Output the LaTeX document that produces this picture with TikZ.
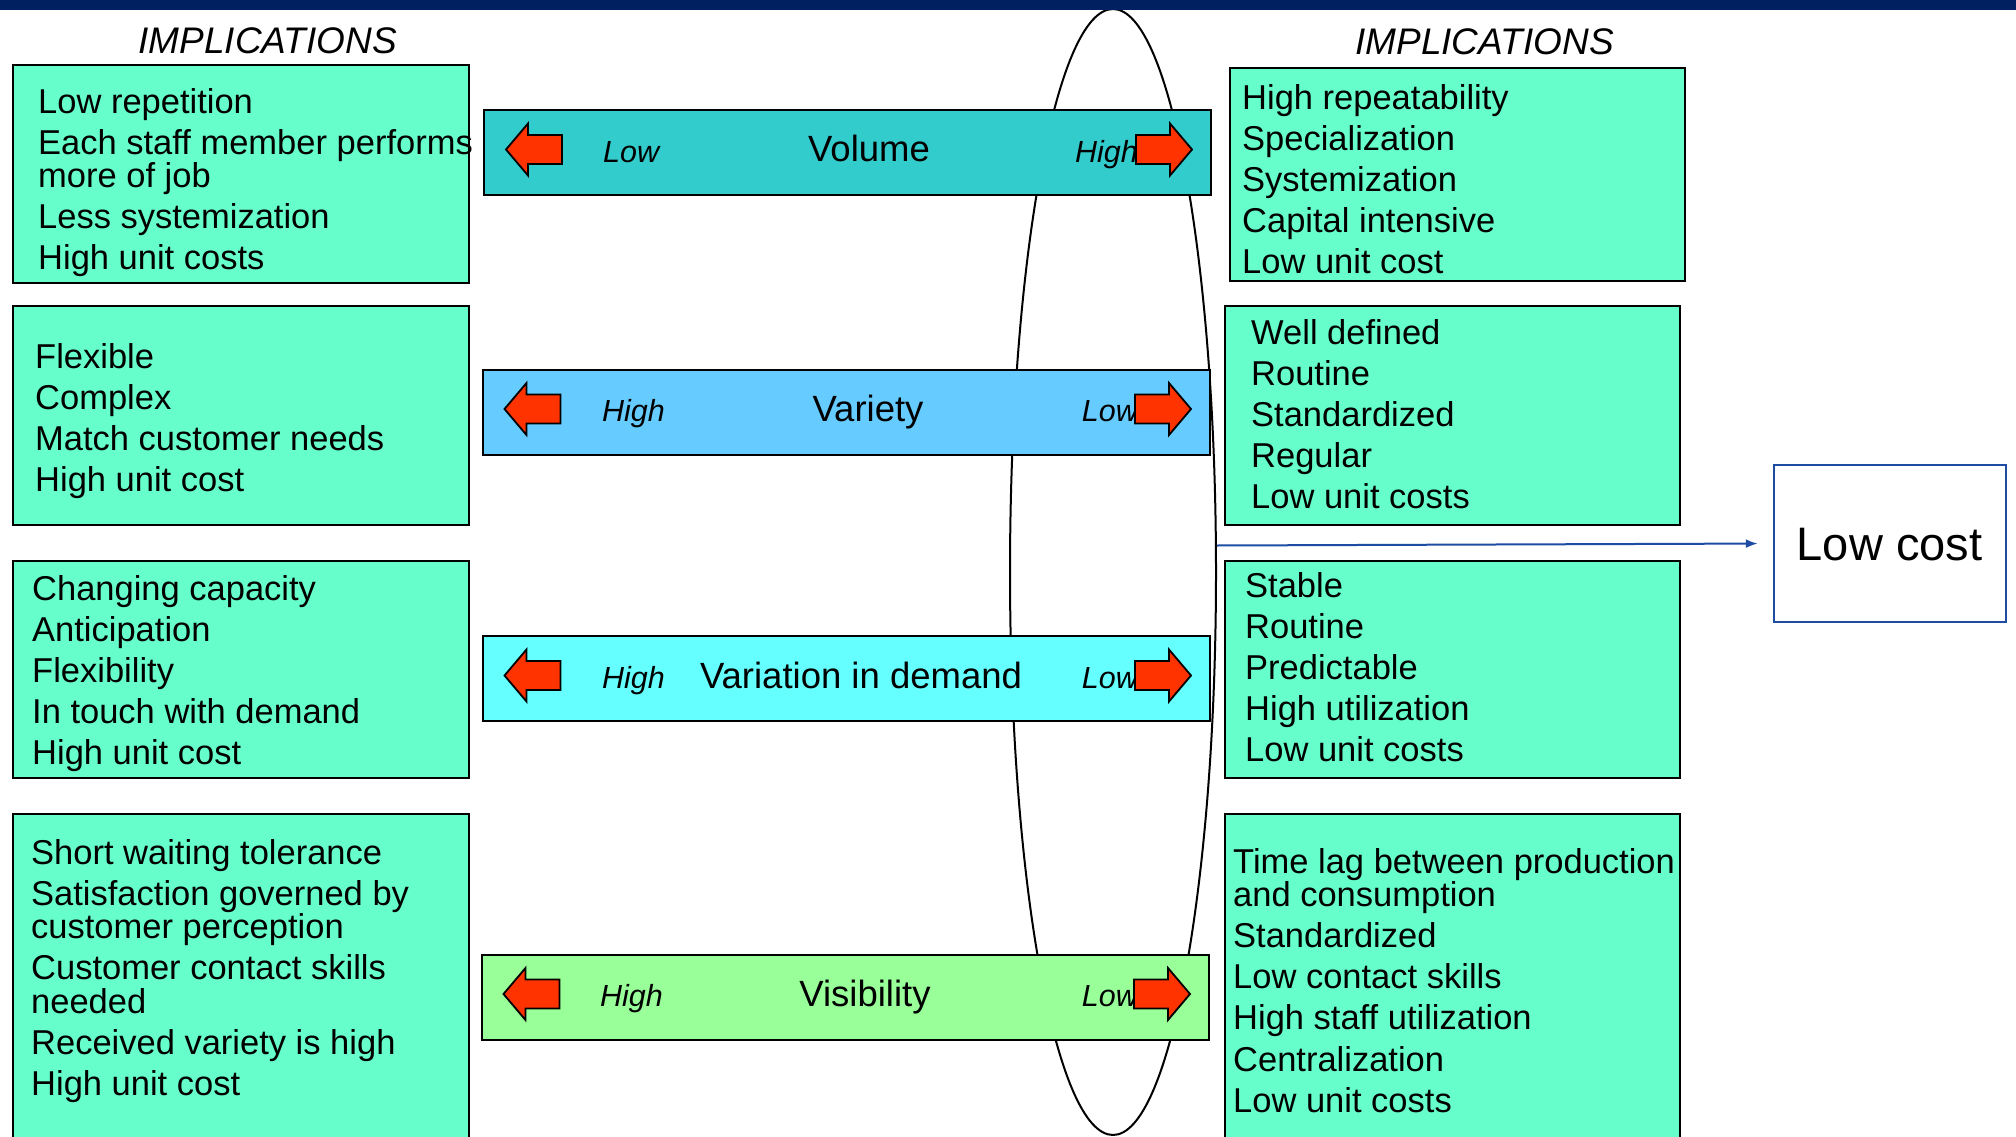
\documentclass[tikz,border=0pt]{standalone}
\usepackage{fontspec}
\setmainfont{Liberation Sans}
\usetikzlibrary{shapes.geometric,arrows.meta}

\definecolor{navy}{HTML}{002060}
\definecolor{mint}{HTML}{66FFCC}
\definecolor{volfill}{HTML}{33CCCC}
\definecolor{varfill}{HTML}{66CCFF}
\definecolor{demfill}{HTML}{66FFFF}
\definecolor{visfill}{HTML}{99FF99}
\definecolor{arrowred}{HTML}{FF3300}
\definecolor{linkblue}{HTML}{1F4CA3}

\newcommand\pbreak{\\[7.7pt]}

\tikzset{
  box/.style={draw=black, line width=2pt, fill=mint, rectangle, inner sep=0pt},
  bar/.style={draw=black, line width=2pt, rectangle, inner sep=0pt,
              minimum width=727pt, minimum height=85pt},
  txt/.style={anchor=north west, inner sep=0pt, align=left,
              font=\fontsize{34.5}{33.4}\selectfont},
  barname/.style={anchor=base, inner sep=0pt, font=\fontsize{36.5}{40}\selectfont},
  level/.style={inner sep=0pt, font=\fontsize{30.5}{34}\selectfont\itshape},
  heading/.style={anchor=base, inner sep=0pt, font=\fontsize{37}{40}\selectfont\itshape},
  oval/.style={draw=black, line width=2pt, ellipse, inner sep=0pt,
               minimum width=206pt, minimum height=1126pt},
  link/.style={draw=linkblue, line width=2pt, -{Latex[length=12pt,width=9pt]}},
  pointer/.pic={
    \draw[fill=arrowred, line width=1.8pt, line join=miter]
      (0,0) -- (22,-26) -- (22,-14.5) -- (56,-14.5) -- (56,14.5)
      -- (22,14.5) -- (22,26) -- cycle;
  },
}

\begin{document}
\begin{tikzpicture}[x=1pt, y=-1pt]
\useasboundingbox (0,0) rectangle (2016,1137);
\clip (0,0) rectangle (2016,1137);
\fill[white] (0,0) rectangle (2016,1137);

% central oval
\node[oval] (ring) at (1113,572) {};

% left implication boxes
\node[box, minimum width=456pt, minimum height=218pt] (l1) at (241,174) {};
\node[box, minimum width=456pt, minimum height=219pt] (l2) at (241,415.5) {};
\node[box, minimum width=456pt, minimum height=217pt] (l3) at (241,669) {};
\node[box, minimum width=456pt, minimum height=346pt] (l4) at (241,987) {};

% right implication boxes
\node[box, minimum width=455pt, minimum height=213pt] (r1) at (1457.5,174.5) {};
\node[box, minimum width=455pt, minimum height=219pt] (r2) at (1452.5,415.5) {};
\node[box, minimum width=455pt, minimum height=217pt] (r3) at (1452.5,669) {};
\node[box, minimum width=455pt, minimum height=346pt] (r4) at (1452.5,987) {};

% box texts
\node[txt] (l1t) at (38,88) {Low repetition\pbreak Each staff member performs\\ more of job\pbreak Less systemization\pbreak High unit costs};
\node[txt] (l2t) at (35,343) {Flexible\pbreak Complex\pbreak Match customer needs\pbreak High unit cost};
\node[txt] (l3t) at (32,575) {Changing capacity\pbreak Anticipation\pbreak Flexibility\pbreak In touch with demand\pbreak High unit cost};
\node[txt] (l4t) at (31,839) {Short waiting tolerance\pbreak Satisfaction governed by\\ customer perception\pbreak Customer contact skills\\ needed\pbreak Received variety is high\pbreak High unit cost};

\node[txt] (r1t) at (1242,84) {High repeatability\pbreak Specialization\pbreak Systemization\pbreak Capital intensive\pbreak Low unit cost};
\node[txt] (r2t) at (1251,319) {Well defined\pbreak Routine\pbreak Standardized\pbreak Regular\pbreak Low unit costs};
\node[txt] (r3t) at (1245,572) {Stable\pbreak Routine\pbreak Predictable\pbreak High utilization\pbreak Low unit costs};
\node[txt] (r4t) at (1233,848) {Time lag between production\\ and consumption\pbreak Standardized\pbreak Low contact skills\pbreak High staff utilization\pbreak Centralization\pbreak Low unit costs};

% dimension bars
\node[bar, fill=volfill] (vol) at (847.5,152.5) {};
\node[bar, fill=varfill] (var) at (846.5,412) {};
\node[bar, fill=demfill] (dem) at (846.5,678.5) {};
\node[bar, fill=visfill] (vis) at (845.5,997) {};

\node[barname] (voln) at (869,161) {Volume};
\node[barname] (varn) at (868,421) {Variety};
\node[barname] (demn) at (861,688) {Variation in demand};
\node[barname] (visn) at (865,1006) {Visibility};

\node[level, anchor=base west] (voll) at (603,162) {Low};
\node[level, anchor=base east] (volh) at (1138,162) {High};
\node[level, anchor=base west] (varl) at (602,421.5) {High};
\node[level, anchor=base east] (varh) at (1138,421.5) {Low};
\node[level, anchor=base west] (deml) at (602,688) {High};
\node[level, anchor=base east] (demh) at (1138,688) {Low};
\node[level, anchor=base west] (visl) at (600,1006.5) {High};
\node[level, anchor=base east] (vish) at (1138,1006.5) {Low};

% direction arrows inside the bars
\pic at (506,149.5) {pointer};
\pic[rotate=180] at (1192,149.5) {pointer};
\pic at (504.5,409) {pointer};
\pic[rotate=180] at (1191,409) {pointer};
\pic at (504.5,675.5) {pointer};
\pic[rotate=180] at (1191,675.5) {pointer};
\pic at (503.5,994) {pointer};
\pic[rotate=180] at (1190,994) {pointer};

% outcome
\node[draw=linkblue, line width=2.5pt, fill=white, inner sep=0pt,
      minimum width=232pt, minimum height=157pt] (cost) at (1890,543.5) {};
\node[anchor=base, inner sep=0pt, font=\fontsize{47}{50}\selectfont] (costt) at (1889.5,560) {Low cost};
\draw[link, shorten >=15pt] ([yshift=-2pt]ring.east |- cost.west) -- (cost.west);

% headings
\node[heading] (hl) at (267.6,54) {IMPLICATIONS};
\node[heading] (hr) at (1484.5,55) {IMPLICATIONS};

% top band
\fill[navy] (0,0) rectangle (2016,10);
\end{tikzpicture}
\end{document}
